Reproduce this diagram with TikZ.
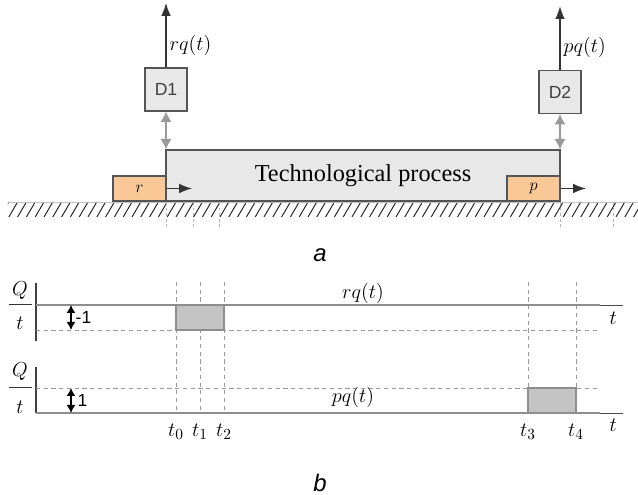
\documentclass[tikz,border=0pt]{standalone}
\usepackage{amsmath}
\usepackage{fontspec}
\newfontfamily\procfont{Liberation Serif}
\newfontfamily\labfont{Liberation Sans}
\usetikzlibrary{arrows.meta,calc,positioning}
\definecolor{srcorange}{HTML}{FAC896}
\definecolor{boxgray}{HTML}{E8E8E8}
\definecolor{edgegray}{HTML}{555555}
\definecolor{linkgray}{HTML}{9A9A9A}
\definecolor{levelgray}{HTML}{8E8E8E}
\definecolor{pulsegray}{HTML}{C4C4C4}
\tikzset{
  procbox/.style={draw=edgegray,fill=boxgray,line width=0.9pt,minimum width=9.85cm,minimum height=1.275cm,inner sep=0pt,font=\procfont\fontsize{17.3}{20}\selectfont},
  srcbox/.style={draw=edgegray,fill=srcorange,line width=0.8pt,minimum width=1.325cm,minimum height=0.625cm,inner sep=0pt,font=\fontsize{13}{15}\selectfont},
  sensbox/.style={draw=edgegray,fill=boxgray,line width=0.8pt,minimum width=1.05cm,minimum height=1.075cm,inner sep=0pt,text=black!75,font=\labfont\fontsize{12.5}{14}\selectfont},
  gauge/.style={linkgray,line width=1pt,{Latex[length=2.6mm,width=2.8mm]}-{Latex[length=2.6mm,width=2.8mm]}},
  outarrow/.style={black!80,line width=0.9pt,-{Latex[length=3.2mm,width=2.4mm]}},
  guide/.style={black!40,dashed,dash pattern=on 3pt off 2.5pt,line width=0.5pt},
  level/.style={levelgray,line width=2pt},
  pulse/.style={draw=levelgray,fill=pulsegray,line width=1.6pt},
  step arrow/.style={black,line width=0.8pt,{Latex[length=2mm,width=2.2mm]}-{Latex[length=2mm,width=2.2mm]}},
  mathlbl/.style={font=\fontsize{15}{18}\selectfont,inner sep=1pt},
  sanslbl/.style={font=\labfont\fontsize{12.5}{14}\selectfont,inner sep=1pt},
  caption/.style={font=\labfont\itshape\fontsize{17}{20}\selectfont}
}
\begin{document}
\begin{tikzpicture}
\useasboundingbox (0,0) rectangle (15.95,12.375);
% ==========================================
% ground
\begin{scope}
\clip (0.2,6.95) rectangle (15.95,7.325);
\foreach \x in {0.0,0.22,...,16.0}
  \draw[black!85,line width=0.7pt] (\x,6.95) -- ++(0.22,0.375);
\end{scope}
\draw[black!25,line width=0.5pt] (0.2,7.325) -- (15.95,7.325);
\foreach \x in {4.15,4.825,5.475,14.0,15.325}
  \draw[black!30,dashed,dash pattern=on 2pt off 2pt,line width=0.5pt] (\x,7.325) -- (\x,6.675);
%
% process, source and product
\node[procbox] (proc) at (9.075,7.9875) {Technological process};
\node[srcbox] (r) at (3.4875,7.6625) {$r$};
\node[srcbox] (p) at (13.3375,7.6625) {$p$};
\coordinate (rout) at (4.8,7.6625);
\coordinate (pout) at (14.65,7.6625);
\draw[outarrow] (r.east) -- (rout);
\draw[outarrow] (p.east) -- (pout);
%
% sensors
\node[sensbox] (d1) at (4.15,10.1375) {D1};
\node[sensbox] (d2) at (14.0,10.075) {D2};
\coordinate (rqend) at (4.15,12.3);
\coordinate (pqend) at (14.0,12.22);
\draw[outarrow] (d1.north) -- (rqend);
\draw[outarrow] (d2.north) -- (pqend);
\draw[gauge] (d1.south) -- (d1.south |- proc.north);
\draw[gauge] (d2.south) -- (d2.south |- proc.north);
\node[mathlbl,right] (rqlab) at (4.2,11.25) {$rq(t)$};
\node[mathlbl,right] (pqlab) at (14.05,11.2) {$pq(t)$};
\node[caption] (capa) at (8.0,6.0) {a};
% =============================================
% upper chart
\node[mathlbl] (q1) at (0.5,5.1) {$Q$};
\node[mathlbl] (t1ax) at (0.5,4.3) {$t$};
\draw[black!80,line width=0.6pt] (0.225,4.775) -- (0.8,4.775);
\draw[black!75,line width=0.9pt] (0.9,5.3) -- (0.9,3.85);
\draw[guide] (0.9,4.125) -- (15.0,4.125);
\foreach \x in {4.4,5.0,5.6,13.2,14.4}
  \draw[guide] (\x,5.325) -- (\x,2.05);
\draw[pulse] (4.4,4.75) rectangle (5.6,4.125);
\draw[level] (0.9,4.75) -- (15.0,4.75);
\draw[black!70,line width=0.6pt] (15.0,4.75) -- (15.575,4.75);
\draw[step arrow] (1.775,4.75) -- (1.775,4.125);
\node[sanslbl,right] (m1) at (1.85,4.44) {-1};
\node[mathlbl] (rqc) at (9.075,5.05) {$rq(t)$};
\node[mathlbl] (tend1) at (15.33,4.42) {$t$};
%
% lower chart
\node[mathlbl] (q2) at (0.5,3.075) {$Q$};
\node[mathlbl] (t2ax) at (0.5,2.2) {$t$};
\draw[black!80,line width=0.6pt] (0.225,2.7) -- (0.8,2.7);
\draw[black!75,line width=0.9pt] (0.9,3.2) -- (0.9,2.05);
\draw[guide] (0.9,2.675) -- (15.0,2.675);
\draw[pulse] (13.2,2.05) rectangle (14.4,2.675);
\draw[level] (0.9,2.05) -- (15.0,2.05);
\draw[black!70,line width=0.6pt] (15.0,2.05) -- (15.575,2.05);
\draw[step arrow] (1.775,2.675) -- (1.775,2.05);
\node[sanslbl,right] (p1) at (1.9,2.375) {1};
\node[mathlbl] (pqc) at (8.825,2.43) {$pq(t)$};
\node[mathlbl] (tend2) at (15.33,1.75) {$t$};
\foreach \x/\n in {4.4/0,5.0/1,5.6/2,13.2/3,14.4/4}
  \node[mathlbl] (tick\n) at (\x,1.575) {$t_\n$};
\node[caption] (capb) at (8.0,0.3) {b};
% =============================================
\end{tikzpicture}
\end{document}
